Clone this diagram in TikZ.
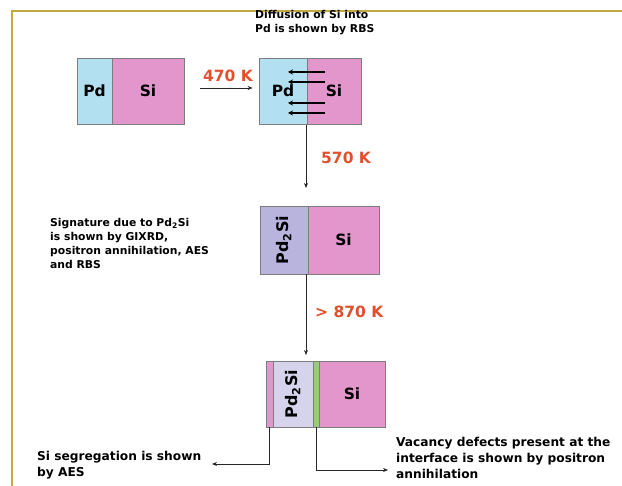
\documentclass[tikz,border=0pt]{standalone}
\usepackage{fontspec}
\setmainfont{DejaVu Sans}
\usetikzlibrary{arrows.meta}
\definecolor{framegold}{RGB}{193,170,65}
\definecolor{pdblue}{RGB}{178,224,240}
\definecolor{sipink}{RGB}{226,150,204}
\definecolor{lavthree}{RGB}{185,180,222}
\definecolor{lavfour}{RGB}{214,212,236}
\definecolor{ifgreen}{RGB}{150,205,120}
\definecolor{boxline}{RGB}{125,125,125}
\definecolor{templabel}{RGB}{225,80,45}
\tikzset{
  part/.style={draw=boxline, line width=0.8pt, inner sep=0pt, minimum height=66pt, font=\fontsize{15.5}{18}\selectfont\bfseries},
  rottext/.style={rotate=90, font=\fontsize{16}{18}\selectfont\bfseries, inner sep=0pt},
  conn/.style={draw=black!85, line width=0.7pt, -{Stealth[length=5pt,width=4pt]}},
  temp/.style={text=templabel, font=\fontsize{15.5}{18}\selectfont\bfseries, inner sep=0pt},
  note/.style={align=left, inner sep=0pt, font=\fontsize{10.8}{14}\selectfont\bfseries, anchor=north west},
  bignote/.style={align=left, inner sep=0pt, font=\fontsize{12.2}{15.8}\selectfont\bfseries, anchor=north west},
}
\begin{document}
\begin{tikzpicture}[x=1pt,y=-1pt]
\useasboundingbox (0,0) rectangle (622,486);
\fill[white] (0,0) rectangle (622,486);
% frame
\draw[framegold, line width=2.5pt] (12,486) -- (12,11) -- (622,11);

% box 1
\node[part, fill=pdblue, minimum width=35pt] (p1) at (94.5,91) {Pd};
\node[part, fill=sipink, minimum width=72pt] (s1) at (148,91) {Si};

% box 2
\node[part, fill=pdblue, minimum width=48pt] (p2) at (283,91) {Pd};
\node[part, fill=sipink, minimum width=54pt] (s2) at (334,91) {Si};
\foreach \yy in {72,82,103,113}
  \draw[line width=1.2pt, -{Stealth[length=5pt,width=5pt]}] (325,\yy) -- (288,\yy);

\node[note] (diff) at (255,10) {Diffusion of Si into\\Pd is shown by RBS};

% arrow 1
\draw[conn, shorten <=16pt, shorten >=6pt] (s1.east |- 0,88) -- (p2.west |- 0,88);
\node[temp] (t1) at (228,76) {470 K};

% box 3
\node[part, fill=lavthree, minimum width=48pt, minimum height=68pt] (p3) at (284,240) {};
\node[rottext] (p3t) at (p3.center) {Pd\textsubscript{2}Si};
\node[part, fill=sipink, minimum width=71pt, minimum height=68pt] (s3) at (343.5,240) {Si};

\coordinate (a2s) at (306,125);
\coordinate (a2e) at (306,188);
\draw[conn] (a2s) -- (a2e);
\node[temp, anchor=west] (t2) at (321,158) {570 K};

\node[note] (sig) at (50,218) {Signature due to Pd\textsubscript{2}Si\\is shown by GIXRD,\\positron annihilation, AES\\and RBS};

% arrow 3
\coordinate (a3e) at (306,355);
\draw[conn] (p3.south east -| 306,0) -- (a3e);
\node[temp, anchor=west] (t3) at (315,312) {> 870 K};

% box 4
\node[part, fill=sipink, minimum width=7pt] (l4) at (269.5,394) {};
\node[part, fill=lavfour, minimum width=40pt] (p4) at (293,394) {};
\node[rottext] (p4t) at (p4.center) {Pd\textsubscript{2}Si};
\node[part, fill=ifgreen, minimum width=6pt] (g4) at (316,394) {};
\node[part, fill=sipink, minimum width=66pt] (s4) at (352,394) {Si};

% bottom connectors
\coordinate (segtip) at (212,464);
\coordinate (vactip) at (388,470);
\draw[conn] (l4.south) -- (l4.south |- segtip) -- (segtip);
\draw[conn] (g4.south) -- (g4.south |- vactip) -- (vactip);

\node[bignote] (seg) at (37,451) {Si segregation is shown\\by AES};
\node[bignote] (vac) at (396,437) {Vacancy defects present at the\\interface is shown by positron\\annihilation};
\end{tikzpicture}
\end{document}
